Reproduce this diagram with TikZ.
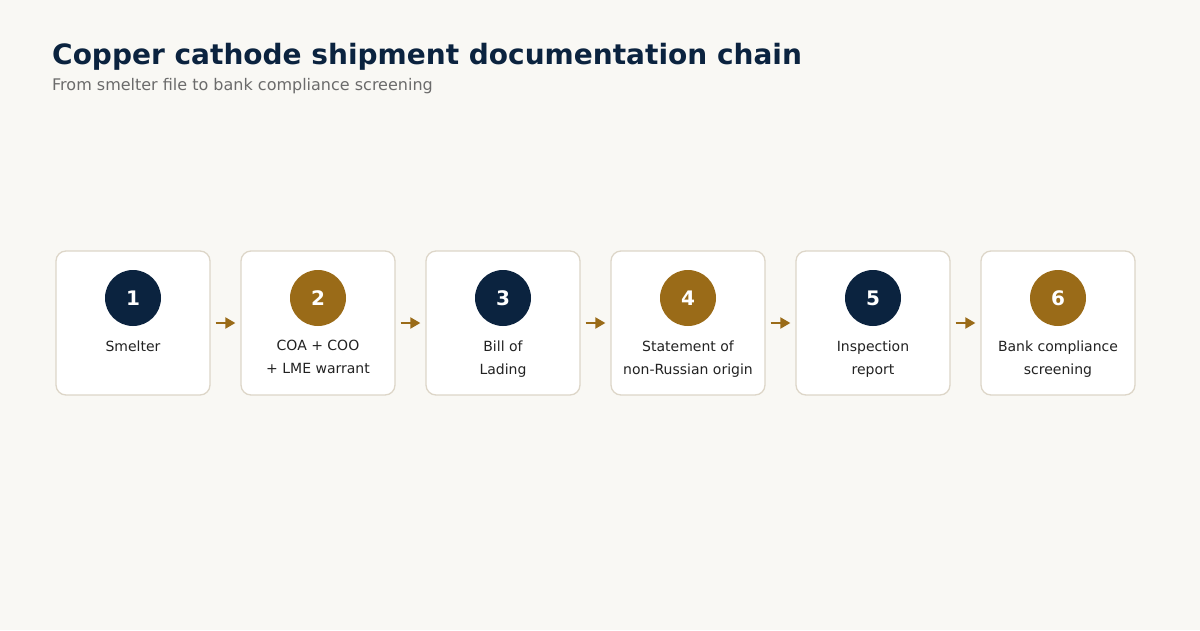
\documentclass[tikz,border=0pt]{standalone}
\usepackage{fontspec}
\setmainfont{DejaVu Sans}
\usetikzlibrary{arrows.meta}
\definecolor{bg}{HTML}{F9F8F4}
\definecolor{navy}{HTML}{0B233F}
\definecolor{gold}{HTML}{9A6B18}
\definecolor{boxline}{HTML}{DDD6C8}
\definecolor{txt}{HTML}{222222}
\definecolor{sub}{HTML}{6B6B6B}
\tikzset{
  card/.style={draw=boxline, line width=1.3pt, fill=white, rounded corners=10pt, minimum width=154pt, minimum height=144pt, inner sep=0pt},
  badge/.style={circle, minimum size=56pt, inner sep=0pt, text=white, font=\bfseries\fontsize{20}{24}\selectfont},
  lbl/.style={text=txt, font=\fontsize{14}{23}\selectfont, align=center, anchor=north},
  flow/.style={draw=gold, line width=2pt, -{Triangle[length=10pt,width=11pt]}}
}
\begin{document}
\begin{tikzpicture}[x=1pt,y=-1pt]
\fill[bg] (0,0) rectangle (1200,630);
\useasboundingbox (0,0) rectangle (1200,630);
\node[anchor=base west, inner sep=0pt, text=navy, font=\bfseries\fontsize{28}{32}\selectfont] (title) at (52,64) {Copper cathode shipment documentation chain};
\node[anchor=base west, inner sep=0pt, text=sub, font=\fontsize{16}{20}\selectfont] (subtitle) at (52,90) {From smelter file to bank compliance screening};
\foreach \i/\c/\t in {1/navy/{Smelter},2/gold/{COA + COO\\+ LME warrant},3/navy/{Bill of\\Lading},4/gold/{Statement of\\non-Russian origin},5/navy/{Inspection\\report},6/gold/{Bank compliance\\screening}} {
  \pgfmathsetmacro{\cx}{133+185*(\i-1)}
  \node[card] (card\i) at (\cx,323) {};
  \node[badge, fill=\c] (badge\i) at (\cx,298) {\i};
  \node[lbl] (lbl\i) at (\cx,337) {\t};
}
\foreach \a/\b in {1/2,2/3,3/4,4/5,5/6} {
  \draw[flow] ([xshift=5pt]card\a.east) -- ([xshift=-5pt]card\b.west);
}
\end{tikzpicture}
\end{document}
